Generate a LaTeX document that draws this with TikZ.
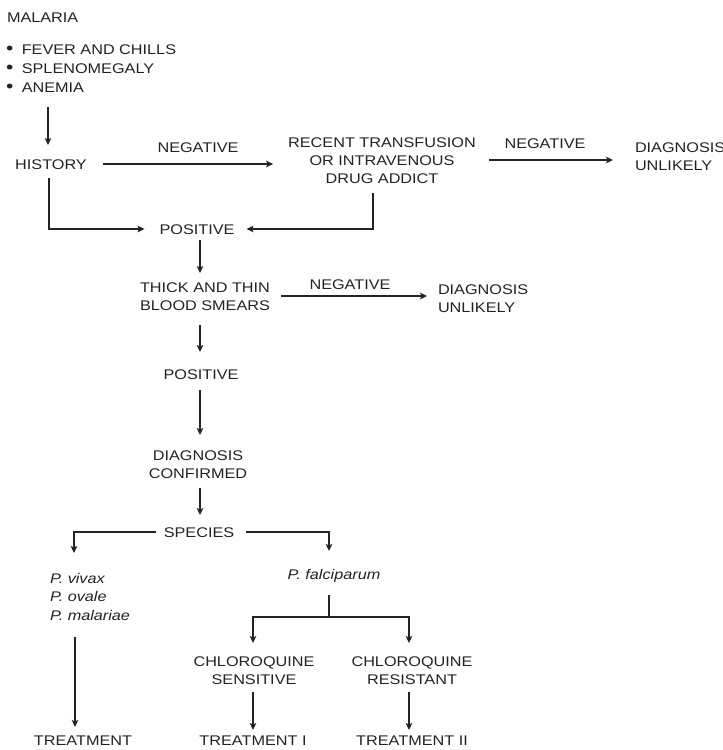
\documentclass[tikz,border=0pt]{standalone}
\usepackage{fontspec}
\setmainfont[FakeStretch=1.16]{Liberation Sans}
\usetikzlibrary{arrows.meta}
\definecolor{ink}{RGB}{35,35,35}
\newcommand{\bul}{{\fontsize{18}{0}\selectfont\textbullet}\hspace{8.5pt}}
\begin{document}
\begin{tikzpicture}[x=1pt,y=-1pt,
  lab/.style={inner sep=0pt, outer sep=0pt, text=ink, font=\fontsize{14}{18}\selectfont, text height=10pt, text depth=0pt},
  mlab/.style={lab, align=center, text height=28pt},
  mlabthree/.style={lab, align=center, text height=46pt},
  conn/.style={draw=ink, line width=1.5pt},
  arr/.style={conn, -{Stealth[length=7pt,width=6.5pt,inset=1.5pt]}}]
\useasboundingbox[fill=white] (0,0) rectangle (723,750);

% nodes
\node[lab, anchor=west] (malaria) at (7,17) {MALARIA};
\node[lab, anchor=north west, align=left, font=\fontsize{14}{19}\selectfont, text height=48pt] (symptoms) at (6,44)
  {\bul FEVER AND CHILLS\\ \bul SPLENOMEGALY\\ \bul ANEMIA};
\node[lab] (history) at (51,164) {HISTORY};
\node[lab] (neg1) at (198,147) {NEGATIVE};
\node[mlabthree] (recent) at (382,160) {RECENT TRANSFUSION\\OR INTRAVENOUS\\DRUG ADDICT};
\node[lab] (neg2) at (545,143) {NEGATIVE};
\node[mlab, anchor=west, align=left] (dxu1) at (635,156.5) {DIAGNOSIS\\UNLIKELY};
\node[lab] (pos1) at (197,229) {POSITIVE};
\node[mlab] (thick) at (205,296) {THICK AND THIN\\BLOOD SMEARS};
\node[lab] (neg3) at (350,284) {NEGATIVE};
\node[mlab, anchor=west, align=left] (dxu2) at (438,298) {DIAGNOSIS\\UNLIKELY};
\node[lab] (pos2) at (201,374) {POSITIVE};
\node[mlab] (confirmed) at (198,464) {DIAGNOSIS\\CONFIRMED};
\node[lab] (species) at (199,532) {SPECIES};
\node[lab, anchor=north west, align=left, font=\fontsize{14}{18.5}\selectfont\itshape, text height=47pt] (vivax) at (50,573)
  {P. vivax\\P. ovale\\P. malariae};
\node[lab, font=\fontsize{14}{18}\selectfont\itshape] (falc) at (334,574) {P. falciparum};
\node[mlab] (sens) at (254,670) {CHLOROQUINE\\SENSITIVE};
\node[mlab] (res) at (412,670) {CHLOROQUINE\\RESISTANT};
\node[lab] (treat) at (83,740) {TREATMENT};
\node[lab] (treat1) at (253,740) {TREATMENT I};
\node[lab] (treat2) at (412,740) {TREATMENT II};
\coordinate (fork) at (329,617);

% connectors
\draw[arr, shorten <=15pt, shorten >=14pt] ([xshift=-3pt]history.north |- symptoms.south) -- ([xshift=-3pt]history.north);
\draw[arr, shorten <=16pt, shorten >=15pt] (history.east) -- (history.east -| recent.west);
\draw[arr, shorten <=13pt, shorten >=22pt] (recent.east) -- (recent.east -| dxu1.west);
\draw[arr, shorten <=9pt, shorten >=15pt] ([xshift=-2pt]history.south) |- (pos1.west);
\draw[arr, shorten <=10pt, shorten >=12pt] ([xshift=-9pt]recent.south) |- (pos1.east);
\draw[arr, shorten <=6pt, shorten >=9pt] ([xshift=3pt]pos1.south) -- ([xshift=3pt]pos1.south |- thick.north);
\draw[arr, shorten <=11pt, shorten >=11pt] (thick.east) -- (thick.east -| dxu2.west);
\draw[arr, shorten <=15pt, shorten >=17pt] ([xshift=-5pt]thick.south) -- ([xshift=-5pt]thick.south |- pos2.north);
\draw[arr, shorten <=11pt, shorten >=15pt] ([xshift=-1pt]pos2.south) -- ([xshift=-1pt]pos2.south |- confirmed.north);
\draw[arr, shorten <=10pt, shorten >=12pt] ([xshift=2pt]confirmed.south) -- ([xshift=2pt]confirmed.south |- species.north);
\draw[arr, shorten <=8pt, shorten >=20pt] (species.west) -| ([xshift=-16pt]vivax.north);
\draw[arr, shorten <=12pt, shorten >=18pt] (species.east) -| ([xshift=-5pt]falc.north);
\draw[conn, shorten <=16pt] ([xshift=-5pt]falc.south) -- (fork);
\draw[arr, shorten >=13pt] (fork) -| ([xshift=-1pt]sens.north);
\draw[arr, shorten >=13pt] (fork) -| ([xshift=-3pt]res.north);
\draw[arr, shorten <=17pt, shorten >=8pt] ([xshift=-8pt]treat.north |- vivax.south) -- ([xshift=-8pt]treat.north);
\draw[arr, shorten <=8pt, shorten >=5pt] ([xshift=-1pt]sens.south) -- ([xshift=-1pt]sens.south |- treat1.north);
\draw[arr, shorten <=8pt, shorten >=5pt] ([xshift=-3pt]res.south) -- ([xshift=-3pt]res.south |- treat2.north);
\end{tikzpicture}
\end{document}
